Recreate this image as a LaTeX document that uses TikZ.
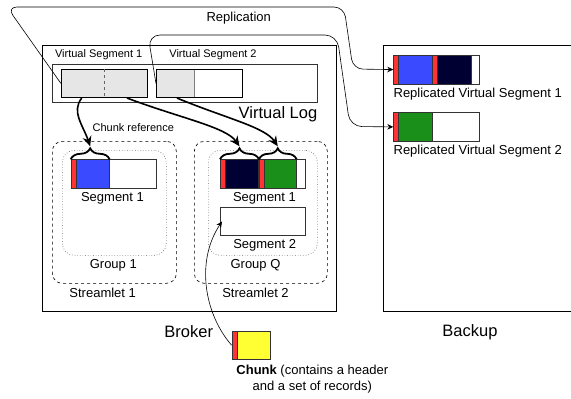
\documentclass[tikz,border=0pt]{standalone}
\usepackage{fontspec}
\setmainfont{Liberation Sans}
\usetikzlibrary{arrows.meta,decorations.pathreplacing}
\definecolor{hdrred}{HTML}{FF3333}
\definecolor{chblue}{HTML}{3A4BFF}
\definecolor{chnavy}{HTML}{000033}
\definecolor{chgreen}{HTML}{1A8F1A}
\definecolor{chyellow}{HTML}{FFFF33}
\definecolor{vsgray}{HTML}{E6E6E6}
\tikzset{
    box/.style={draw, inner sep=0pt, anchor=north west},
    segbox/.style={box, draw=black!80, fill=white, minimum width=85.3, minimum height=28.5},
    chunkbox/.style={box, draw=black!80, minimum width=38.3, minimum height=28.5,
        path picture={\fill[hdrred] (path picture bounding box.north west) rectangle ([xshift=5pt]path picture bounding box.south west);
            \draw[black!80] ([xshift=5pt]path picture bounding box.north west) -- ([xshift=5pt]path picture bounding box.south west);}},
    brc/.style={decorate, decoration={brace, amplitude=11pt}, line width=1.8pt},
    refarrow/.style={line width=1.6pt, -{Stealth[length=10pt,width=9pt]}},
    thinarrow/.style={line width=0.6pt, -{Stealth[length=6pt,width=5.5pt]}},
    lbl/.style={font=\fontsize{13}{15.7}\selectfont, inner sep=0pt},
    sml/.style={font=\fontsize{11}{13}\selectfont, inner sep=0pt},
    big/.style={font=\fontsize{16.5}{19}\selectfont, inner sep=0pt}
}
\begin{document}
\begin{tikzpicture}[x=1pt,y=-1pt,line width=0.65pt]
        \useasboundingbox (0,0) rectangle (571,399);
        %% broker and backup
        \node[box, minimum width=294, minimum height=266] (broker) at (42,45) {};
        \draw (571,45) -| (383,311) -- (571,311);
        \node[big] (brokerlbl) at (188.7,331.7) {Broker};
        \node[big] (backuplbl) at (470,332) {Backup};
        %% virtual log
        \node[box, draw=black!80, minimum width=265, minimum height=38] (vlog) at (52,64) {};
        \node[big] (vloglbl) at (278,114) {Virtual Log};
        \node[box, fill=vsgray, minimum width=85.7, minimum height=28.4] (vs1) at (61,69) {};
        \draw[dashed, black!60] (vs1.north) -- (vs1.south);
        \node[box, fill=white, minimum width=85.7, minimum height=28.4,
            path picture={\fill[vsgray] (path picture bounding box.north west) rectangle ([xshift=38pt]path picture bounding box.south west);
                \draw[black!50] ([xshift=38pt]path picture bounding box.north west) -- ([xshift=38pt]path picture bounding box.south west);}] (vs2) at (156,69) {};
        \node[sml] (vs1lbl) at (98.7,55) {Virtual Segment 1};
        \node[sml] (vs2lbl) at (213,55) {Virtual Segment 2};
        %% streamlets and groups
        \node[box, dashed, rounded corners=10, minimum width=124, minimum height=142] (st1) at (52,141) {};
        \node[box, dashed, rounded corners=10, minimum width=133, minimum height=142] (st2) at (194,141) {};
        \node[box, dotted, draw=black!60, rounded corners=12, minimum width=104, minimum height=105] (g1) at (62,150) {};
        \node[box, dotted, draw=black!60, rounded corners=12, minimum width=109, minimum height=105] (gq) at (208,150) {};
        \node[lbl] (st1lbl) at (102.7,293) {Streamlet 1};
        \node[lbl] (st2lbl) at (255.5,293) {Streamlet 2};
        \node[lbl] (g1lbl) at (113.3,265) {Group 1};
        \node[lbl] (gqlbl) at (255.5,265) {Group Q};
        %% segments
        \node[segbox] (s1) at (70.7,159.3) {};
        \node[chunkbox, fill=chblue] (c1) at (s1.north west) {};
        \node[segbox] (sq1) at (220,159.3) {};
        \node[chunkbox, fill=chnavy] (c2) at (sq1.north west) {};
        \node[chunkbox, fill=chgreen, minimum width=37] (c3) at (c2.north east) {};
        \node[segbox, minimum height=27.7] (sq2) at (220,207.3) {};
        \node[lbl] (s1lbl) at (112.5,198) {Segment 1};
        \node[lbl] (sq1lbl) at (264.5,198) {Segment 1};
        \node[lbl] (sq2lbl) at (264.7,245.7) {Segment 2};
        %% chunk references
        \foreach \c in {c1,c2,c3} {
            \draw[brc] (\c.north west) -- (\c.north east);
            \coordinate (tip\c) at ([yshift=13pt]\c.north);
        }
        \draw[refarrow] ([xshift=20.7pt]vs1.south west) .. controls (71,112) and (83,125) .. (tipc1);
        \draw[refarrow] ([xshift=66pt]vs1.south west) .. controls (180,118) and (226,127) .. (tipc2);
        \draw[refarrow] ([xshift=21pt]vs2.south west) .. controls (225,118) and (265,127) .. (tipc3);
        \node[sml] (reflbl) at (133.3,127.3) {Chunk reference};
        %% replicated segments
        \node[segbox] (rv1) at (393.3,55) {};
        \node[chunkbox, fill=chblue] (rc1) at (rv1.north west) {};
        \node[chunkbox, fill=chnavy] (rc2) at (rc1.north east) {};
        \node[segbox] (rv2) at (393.3,112.3) {};
        \node[chunkbox, fill=chgreen] (rc3) at (rv2.north west) {};
        \node[lbl, anchor=west] (rv1lbl) at (393.3,94.3) {Replicated Virtual Segment 1};
        \node[lbl, anchor=west] (rv2lbl) at (393.3,150.7) {Replicated Virtual Segment 2};
        %% replication
        \draw[thinarrow, rounded corners=10] (vs1.west) -- (7,7) -- (344,7) -- (353,69) -- (rc1.west);
        \draw[thinarrow, rounded corners=12] (vs2.west) -- (148,35) -- (337,35) -- (350,126.5) -- (rc3.west);
        \node[lbl] (replbl) at (238.7,18.3) {Replication};
        %% chunk legend
        \node[chunkbox, fill=chyellow] (chunk) at (231.7,330.7) {};
        \draw[thinarrow] (chunk.west) .. controls (205,315) and (195,262) .. ([xshift=2pt]sq2.west);
        \node[lbl, align=center] (chunklbl) at (312.3,379) {\textbf{Chunk} (contains a header\\and a set of records)};
    \end{tikzpicture}
\end{document}
